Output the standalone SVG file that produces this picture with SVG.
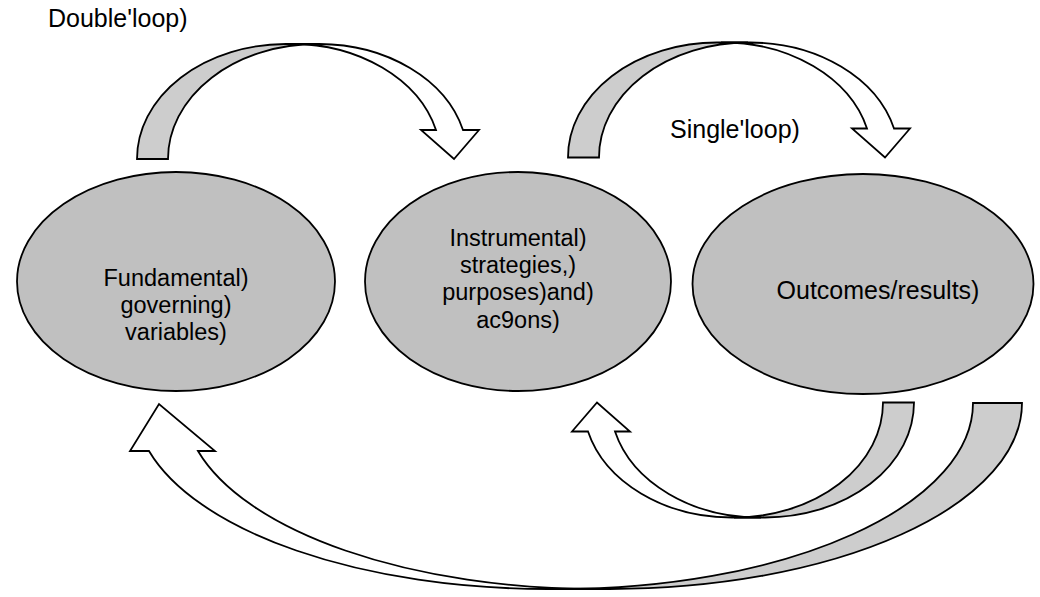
<svg xmlns="http://www.w3.org/2000/svg" xmlns:xlink="http://www.w3.org/1999/xlink" width="1040" height="597" viewBox="0 0 1040 597">
<style>
.node{fill:#c0c0c0;stroke:#000;stroke-width:1.8}
.back{fill:#cdcdcd;stroke:#000;stroke-width:1.8;stroke-linejoin:miter}
.front{fill:#fff;stroke:#000;stroke-width:1.8;stroke-linejoin:miter}
text{font-family:"Liberation Sans",Arial,sans-serif;font-size:23.5px;fill:#000}
.c{text-anchor:middle}
.big{font-size:25px}
</style>
<defs>
<g id="arrowA">
<path class="back" d="M137,159 A149 115 0 0 1 286,44 L317,44 A149 115 0 0 0 168,159 Z"/>
<path class="front" d="M290,44 A149 115 0 0 1 436,130 L421,130 L454,159 L479,130 L463,130 A149 115 0 0 0 319,44 Z"/>
</g>
</defs>
<rect width="1040" height="597" fill="#fff"/>
<g id="connectors">
<use id="double-loop-forward" xlink:href="#arrowA" href="#arrowA"/>
<use id="single-loop-forward" xlink:href="#arrowA" href="#arrowA" transform="translate(431,-1.5)"/>
<use id="single-loop-return" xlink:href="#arrowA" href="#arrowA" transform="rotate(180 525.5 280.75)"/>
<g id="double-loop-return">
<path class="back" d="M1022,403 A412.5 186 0 0 1 609.5,589 L560.5,589 A412.5 186 0 0 0 973,403 Z"/>
<path class="front" d="M596.5,589 A412.5 186 0 0 1 198,451 L215,451 L159,404 L130,451 L149,451 A412.5 186 0 0 0 547.5,589 Z"/>
</g>
</g>
<g id="node-fundamental">
<ellipse class="node" cx="176" cy="281.5" rx="159" ry="109.5"/>
<text class="c"><tspan x="176" y="286">Fundamental)</tspan><tspan x="176" y="313">governing)</tspan><tspan x="176" y="340">variables)</tspan></text>
</g>
<g id="node-instrumental">
<ellipse class="node" cx="518" cy="281.5" rx="153" ry="109.5"/>
<text class="c"><tspan x="518" y="246">Instrumental)</tspan><tspan x="518" y="273">strategies,)</tspan><tspan x="518" y="300">purposes)and)</tspan><tspan x="518" y="328">ac9ons)</tspan></text>
</g>
<g id="node-outcomes">
<ellipse class="node" cx="863" cy="284" rx="170.5" ry="110"/>
<text class="c big" x="878" y="299">Outcomes/results)</text>
</g>
<g id="labels">
<text class="big" x="48" y="27">Double'loop)</text>
<text class="big" x="670" y="138">Single'loop)</text>
</g>
</svg>
